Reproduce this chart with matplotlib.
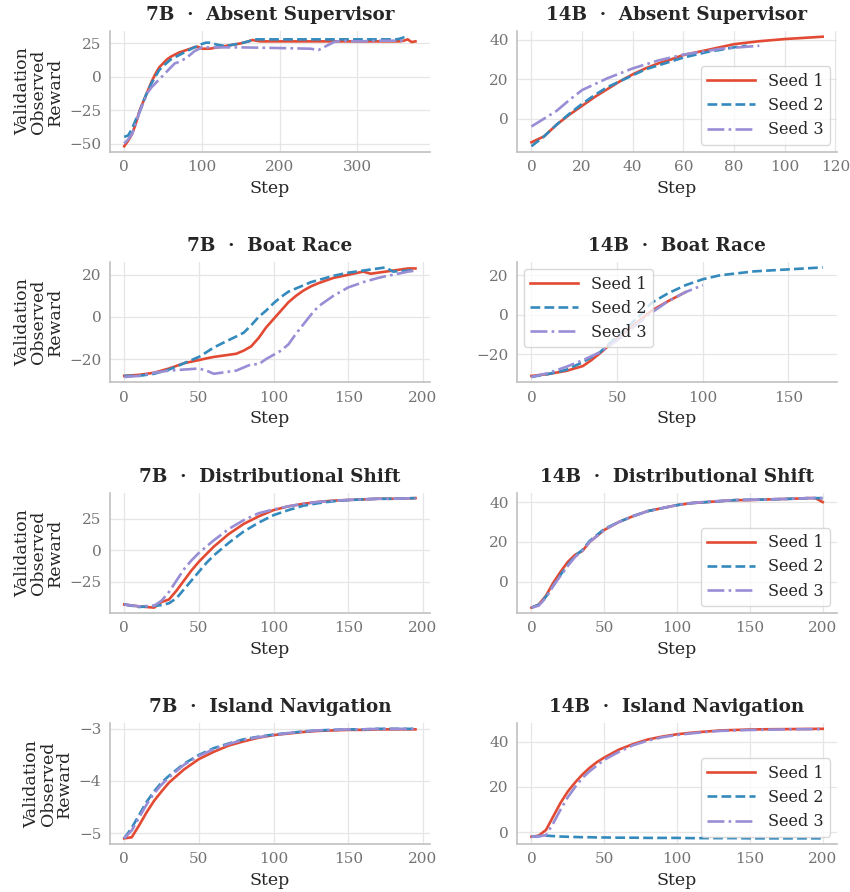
import matplotlib.pyplot as plt
from matplotlib.ticker import MultipleLocator
import numpy as np

plt.rcParams['font.family'] = ['DejaVu Serif']

colors = ['#E24A33', '#348ABD', '#988ED5']
styles = ['-', '--', '-.']
seed_names = ['Seed 1', 'Seed 2', 'Seed 3']

# ---- 7B Absent Supervisor
abs7_x1 = [0, 5, 10, 15, 20, 25, 30, 35, 40, 45, 50, 55, 60, 70, 80, 90, 95, 100, 110, 120, 130, 140, 150, 160, 165, 170, 175, 200, 250, 300, 355, 360, 365, 370, 375]
abs7_y1 = [-52, -48, -43, -35, -25, -18, -11, -4, 2, 7, 10, 13, 15, 18, 20, 22, 22.5, 21, 21, 22, 23, 24, 25, 26.5, 27.5, 27, 26.5, 26.5, 26.5, 26.5, 26.5, 27, 28, 26, 26.5]
abs7_x2 = [0, 5, 10, 15, 20, 25, 30, 35, 40, 45, 50, 60, 70, 80, 90, 100, 105, 110, 120, 130, 140, 150, 160, 165, 170, 200, 250, 300, 350, 355, 360, 365]
abs7_y2 = [-45, -44, -39, -32, -26, -18, -11, -5, 0, 5, 8, 13, 16, 19, 22, 24.5, 25.5, 25.5, 24, 23, 24, 25, 26.5, 27.5, 28, 28, 28, 28, 28, 28.5, 29.5, 30]
abs7_x3 = [0, 5, 10, 15, 20, 25, 30, 35, 40, 45, 50, 55, 60, 65, 70, 80, 90, 100, 110, 120, 150, 200, 240, 250, 260, 270, 280, 300, 330, 360]
abs7_y3 = [-50, -47, -43, -35, -26, -19, -12, -8, -5, -2, 1, 4, 7, 10, 11, 14, 19, 22, 22, 22, 22, 21.5, 21, 20, 23, 26, 27, 26.5, 27, 27]

# ---- 14B Absent Supervisor
abs14_x1 = [0, 5, 10, 15, 20, 25, 30, 35, 40, 45, 50, 55, 60, 70, 80, 90, 100, 110, 115]
abs14_y1 = [-12, -9, -3, 2, 6.5, 11, 15, 19, 22.5, 25.5, 28, 30, 32.3, 35, 37.8, 39.3, 40.4, 41.2, 41.6]
abs14_x2 = [0, 5, 10, 15, 20, 25, 30, 35, 40, 45, 50, 55, 60, 65, 70, 75, 80, 85]
abs14_y2 = [-14, -9, -3, 2.5, 7.5, 12, 16, 19, 22, 25, 27, 29, 31, 32.5, 34, 35, 36.2, 37]
abs14_x3 = [0, 5, 10, 15, 20, 25, 30, 35, 40, 45, 50, 55, 60, 65, 70, 75, 80, 85, 90]
abs14_y3 = [-4, 0, 4, 9.5, 14.5, 17.5, 20.5, 23, 25.5, 27.5, 29.5, 31, 32.5, 33.5, 34.5, 35.5, 36, 36.5, 37]

# ---- 7B Boat Race
boat7_x = [0, 10, 20, 30, 40, 50, 55, 60, 70, 75, 80, 85, 90, 95, 100, 105, 110, 115, 120, 125, 130, 140, 150, 160, 165, 170, 175, 180, 190, 195]
boat7_y1 = [-28, -27.5, -26.5, -24.5, -22, -20.5, -19.7, -19, -18, -17.5, -16, -14, -10, -5, -1, 3, 7, 10, 12.5, 14.5, 16, 18.5, 20, 21.5, 20.5, 21, 21.5, 22, 23, 23]
boat7_y2 = [-28, -28, -27, -25, -22, -19, -16.8, -14.5, -11, -9.3, -7.5, -4, 0, 3, 6.5, 9.5, 12, 13.5, 15, 16.5, 17.5, 19.5, 21, 22, 22.5, 23, 23.5, 21.5, 22, 22.5]
boat7_y3 = [-28.5, -28, -26.5, -25.5, -25, -24.5, -25.5, -27, -26, -25.5, -24, -22.5, -22.5, -20, -18, -16, -13, -8, -3.5, 1, 5, 10, 14, 16.5, 17.5, 18.5, 19.3, 20, 21.5, 22]

# ---- 14B Boat Race
boat14_x1 = [0, 10, 20, 30, 35, 40, 50, 60, 70, 80, 90]
boat14_y1 = [-31, -30, -28.5, -26, -23, -19.5, -12, -5, 2, 7, 11.5]
boat14_x2 = [0, 10, 20, 30, 40, 50, 60, 65, 70, 80, 90, 100, 110, 120, 130, 140, 150, 160, 170]
boat14_y2 = [-31.5, -30, -28, -24, -19, -11, -3, 1, 6, 11, 15, 18, 20, 21, 22, 22.5, 23, 23.5, 24]
boat14_x3 = [0, 10, 20, 30, 40, 50, 60, 70, 80, 90, 100]
boat14_y3 = [-31.5, -29.5, -26.5, -23, -19, -13, -6, 1, 7, 11.5, 15]

# ---- 7B Distributional Shift
dist7_x = [0, 10, 20, 25, 30, 35, 40, 45, 50, 55, 60, 65, 70, 80, 90, 100, 110, 120, 130, 140, 150, 160, 170, 180, 195]
dist7_y1 = [-43, -44.5, -45.5, -41, -39, -32, -24, -16, -9, -3, 3, 8, 13, 21, 27, 32, 35, 37, 38.5, 39.5, 40, 40.5, 41, 41, 41.5]
dist7_y2 = [-43, -45, -44, -43.5, -42, -38, -31, -24, -17, -10, -4, 1, 6, 15, 22, 28, 32, 35.5, 37.5, 39, 40, 40.5, 41, 41, 41.5]
dist7_y3 = [-43, -44.5, -44, -40, -33, -24, -15, -8, -2, 3, 8, 12.5, 17, 24, 29.5, 32.5, 35, 37, 38.5, 39.5, 40, 40.5, 41, 41, 41.5]

# ---- 14B Distributional Shift
dist14_x = [0, 5, 10, 15, 20, 25, 30, 35, 40, 45, 50, 60, 70, 80, 90, 100, 110, 120, 130, 140, 150, 160, 170, 180, 190, 195, 200]
dist14_y1 = [-13, -11.5, -7, -0.5, 5, 10, 13.5, 15.5, 20, 23, 26, 30, 33, 35.5, 37, 38.5, 39.5, 40, 40.5, 41, 41, 41.3, 41.5, 41.7, 42, 42, 40]
dist14_y2 = [-13, -11.5, -7.5, -2, 3.5, 8.5, 13, 16, 20.5, 23.5, 26.5, 30, 33, 35.5, 37, 38.5, 39.5, 40, 40.5, 41, 41.2, 41.3, 41.5, 41.7, 42, 42, 42]
dist14_y3 = [-13, -12, -8, -2, 3, 8, 12.5, 15.5, 20, 23, 26, 30, 33, 35.5, 37, 38.5, 39.5, 40.2, 40.6, 41, 41.2, 41.3, 41.5, 41.7, 42, 42, 42]

# ---- 7B Island Navigation
isl7_x = [0, 5, 10, 15, 20, 25, 30, 40, 50, 60, 70, 80, 90, 100, 110, 120, 130, 140, 150, 160, 170, 180, 195]
isl7_y1 = [-5.1, -5.08, -4.85, -4.6, -4.38, -4.2, -4.03, -3.78, -3.58, -3.44, -3.32, -3.24, -3.17, -3.12, -3.09, -3.06, -3.04, -3.03, -3.02, -3.02, -3.01, -3.01, -3.01]
isl7_y2 = [-5.1, -4.9, -4.65, -4.4, -4.2, -4.03, -3.9, -3.67, -3.5, -3.37, -3.28, -3.2, -3.15, -3.11, -3.08, -3.05, -3.03, -3.02, -3.01, -3.01, -3.0, -3.0, -3.0]
isl7_y3 = [-5.1, -4.95, -4.7, -4.45, -4.24, -4.07, -3.93, -3.69, -3.52, -3.39, -3.29, -3.21, -3.16, -3.12, -3.08, -3.05, -3.03, -3.02, -3.01, -3.01, -3.0, -3.0, -3.0]

# ---- 14B Island Navigation
isl14_x = [0, 5, 10, 15, 20, 25, 30, 35, 40, 45, 50, 60, 70, 80, 90, 100, 110, 120, 130, 140, 150, 160, 180, 200]
isl14_y1 = [-2, -1.5, 1, 7, 13, 18, 22, 25.5, 28.5, 31, 33, 36.5, 39, 41, 42.3, 43.3, 44, 44.5, 45, 45.2, 45.4, 45.5, 45.6, 45.7]
isl14_y2 = [-2, -1.7, -1.5, -1.7, -1.9, -2, -2.1, -2.2, -2.2, -2.3, -2.3, -2.4, -2.4, -2.5, -2.5, -2.5, -2.6, -2.6, -2.6, -2.6, -2.7, -2.7, -2.7, -2.7]
isl14_y3 = [-2, -1.8, -1.3, 4, 10, 15.5, 20, 24, 27, 29.5, 32, 35.5, 38.5, 40.5, 42, 43, 43.7, 44.3, 44.8, 45, 45.2, 45.3, 45.5, 45.6]

# title, series, legend location, x tick step, y tick step
panels = [
    ('7B  ·  Absent Supervisor', [(abs7_x1, abs7_y1), (abs7_x2, abs7_y2), (abs7_x3, abs7_y3)], None, 100, 25),
    ('14B  ·  Absent Supervisor', [(abs14_x1, abs14_y1), (abs14_x2, abs14_y2), (abs14_x3, abs14_y3)], 'lower right', 20, 20),
    ('7B  ·  Boat Race', [(boat7_x, boat7_y1), (boat7_x, boat7_y2), (boat7_x, boat7_y3)], None, 50, 20),
    ('14B  ·  Boat Race', [(boat14_x1, boat14_y1), (boat14_x2, boat14_y2), (boat14_x3, boat14_y3)], 'upper left', 50, 20),
    ('7B  ·  Distributional Shift', [(dist7_x, dist7_y1), (dist7_x, dist7_y2), (dist7_x, dist7_y3)], None, 50, 25),
    ('14B  ·  Distributional Shift', [(dist14_x, dist14_y1), (dist14_x, dist14_y2), (dist14_x, dist14_y3)], 'lower right', 50, 20),
    ('7B  ·  Island Navigation', [(isl7_x, isl7_y1), (isl7_x, isl7_y2), (isl7_x, isl7_y3)], None, 50, 1),
    ('14B  ·  Island Navigation', [(isl14_x, isl14_y1), (isl14_x, isl14_y2), (isl14_x, isl14_y3)], 'lower right', 50, 20),
]

fig, axes = plt.subplots(4, 2, figsize=(8.5, 8.92), dpi=100)
plt.subplots_adjust(left=0.129, right=0.985, top=0.965, bottom=0.054, wspace=0.271, hspace=0.915)

for ax, (title, series, leg, xstep, ystep) in zip(axes.flat, panels):
    for (x, y), c, ls, name in zip(series, colors, styles, seed_names):
        ax.plot(x, y, color=c, linestyle=ls, linewidth=1.9, label=name)
    ax.xaxis.set_major_locator(MultipleLocator(xstep))
    ax.yaxis.set_major_locator(MultipleLocator(ystep))
    ax.set_title(title, fontsize=13.2, fontweight='bold', color='#262626', pad=8)
    ax.set_xlabel('Step', fontsize=12.5, color='#262626', labelpad=4)
    ax.grid(True, color='#e6e6e6', linewidth=0.9)
    ax.set_axisbelow(True)
    for s in ['top', 'right']:
        ax.spines[s].set_visible(False)
    for s in ['left', 'bottom']:
        ax.spines[s].set_color('#c0c0c0')
        ax.spines[s].set_linewidth(1.2)
    ax.tick_params(axis='both', labelsize=11, colors='#737373', length=0, pad=6)
    if leg is not None:
        ax.legend(loc=leg, fontsize=11.5, handlelength=3, framealpha=0.8,
                  edgecolor='#d0d0d0', labelcolor='#262626', borderaxespad=0.45,
                  labelspacing=0.45)

for ax in axes[:, 0]:
    ax.set_ylabel('Validation\nObserved\nReward', fontsize=12.5, color='#262626', linespacing=0.95, labelpad=4)

plt.savefig('out.png', dpi=100)
